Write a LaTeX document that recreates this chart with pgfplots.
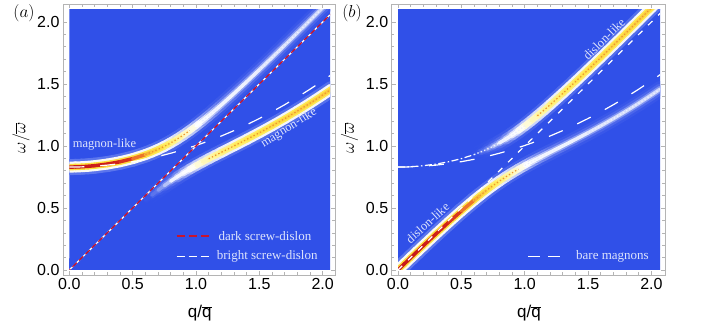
\documentclass[border=0pt]{standalone}
\usepackage{fontspec}
\setmainfont{Liberation Serif}
\newfontfamily\sansf{Liberation Sans}
\usepackage{pgfplots}
\usepackage{pgfplotstable}
\pgfplotsset{compat=1.18}

\definecolor{bg}{RGB}{48,80,232}
\definecolor{frm}{RGB}{180,180,180}
\definecolor{lab}{RGB}{222,228,252}
\definecolor{dred}{RGB}{200,20,45}
\definecolor{dotor}{RGB}{238,150,45}

% hybridised branches: q, upper, lower, intensity A (magnon-like weight), B (dislon-like weight)
\pgfplotstableread{
q up lo A B
0 0.8300 0.0000 1.00 0.00
0.05 0.8309 0.0495 1.00 0.00
0.1 0.8331 0.0986 1.00 0.00
0.15 0.8365 0.1474 1.00 0.00
0.2 0.8412 0.1958 0.99 0.00
0.3 0.8542 0.2914 0.98 0.02
0.4 0.8729 0.3850 0.97 0.03
0.5 0.8979 0.4756 0.95 0.06
0.6 0.9305 0.5621 0.90 0.11
0.65 0.9506 0.6028 0.86 0.14
0.7 0.9724 0.6429 0.81 0.18
0.75 0.9971 0.6808 0.76 0.22
0.8 1.0248 0.7166 0.70 0.27
0.85 1.0551 0.7506 0.64 0.33
0.9 1.0883 0.7827 0.58 0.38
0.95 1.1240 0.8130 0.52 0.44
1.0 1.1620 0.8420 0.47 0.49
1.05 1.2021 0.8697 0.42 0.54
1.1 1.2438 0.8967 0.38 0.59
1.15 1.2871 0.9230 0.35 0.62
1.2 1.3316 0.9489 0.33 0.66
1.3 1.4235 1.0006 0.31 0.71
1.4 1.5181 1.0529 0.30 0.75
1.5 1.6148 1.1067 0.29 0.77
1.6 1.7130 1.1625 0.28 0.80
1.7 1.8123 1.2206 0.28 0.81
1.8 1.9124 1.2813 0.27 0.82
1.9 2.0133 1.3448 0.27 0.83
2.0 2.1147 1.4113 0.27 0.84
2.07 2.1862 1.4594 0.27 0.84
}\branches

% bare magnon
\pgfplotstableread{
q m
0 0.8300
0.1 0.8317
0.2 0.8370
0.3 0.8457
0.4 0.8578
0.5 0.8735
0.6 0.8926
0.7 0.9153
0.8 0.9414
0.9 0.9709
1.0 1.0040
1.1 1.0405
1.2 1.0806
1.3 1.1241
1.4 1.1710
1.5 1.2215
1.6 1.2754
1.7 1.3329
1.8 1.3938
1.9 1.4581
2.0 1.5260
2.1 1.5973
}\magnon

\pgfplotsset{
 colormap={Lone}{rgb255(0cm)=(48,80,232); rgb255(1.5cm)=(48,80,232); rgb255(3cm)=(58,88,233); rgb255(10cm)=(92,118,237)},
 colormap={Ltwo}{rgb255(0cm)=(48,80,232); rgb255(1.5cm)=(48,80,232); rgb255(3cm)=(82,107,236); rgb255(5cm)=(185,196,248); rgb255(7cm)=(238,241,255); rgb255(10cm)=(250,250,245)},
 colormap={Lthree}{rgb255(0cm)=(48,80,232); rgb255(1.2cm)=(48,80,232); rgb255(3cm)=(140,158,243); rgb255(4.5cm)=(250,250,255); rgb255(6cm)=(255,248,175); rgb255(8cm)=(255,236,85); rgb255(10cm)=(255,222,60)},
 colormap={Lfour}{rgb255(0cm)=(48,80,232); rgb255(1.2cm)=(48,80,232); rgb255(3cm)=(240,243,255); rgb255(4.5cm)=(255,255,255); rgb255(6cm)=(255,245,160); rgb255(7.5cm)=(255,232,80); rgb255(8.7cm)=(250,195,60); rgb255(9.3cm)=(235,110,40); rgb255(9.7cm)=(210,35,25); rgb255(10cm)=(200,25,25)},
}

\newcommand\band[2]{%
 \addplot[forget plot, mesh, colormap name=Lone, line width=16pt, line cap=round, point meta=\thisrow{#2}] table[x=q,y=#1]{\branches};
 \addplot[forget plot, mesh, colormap name=Ltwo, line width=11pt, line cap=round, point meta=\thisrow{#2}] table[x=q,y=#1]{\branches};
 \addplot[forget plot, mesh, colormap name=Lthree, line width=6.5pt, line cap=round, point meta=\thisrow{#2}] table[x=q,y=#1]{\branches};
 \addplot[forget plot, mesh, colormap name=Lfour, line width=3.5pt, line cap=round, point meta=\thisrow{#2}] table[x=q,y=#1]{\branches};
}

\tikzset{
 mylbl/.style={text=lab, font=\fontsize{12.5}{14}\selectfont},
 mydot/.style={white!92!bg, line width=1.3pt, dash pattern=on 1.4pt off 2.2pt},
 myodot/.style={dotor, line width=1.2pt, dash pattern=on 1.4pt off 2.2pt},
 legtxt/.style={text=lab, font=\fontsize{13}{15}\selectfont, anchor=west, inner sep=0pt},
}

\pgfplotsset{
 frameaxis/.style={
  anchor=south west, x=126.7pt, y=124pt,
  ymin=-0.0403, ymax=2.145,
  axis line style={frm, line width=0.8pt},
  tick style={frm, line width=0.6pt},
  major tick length=4pt, minor tick length=2.5pt,
  xtick={0,0.5,1,1.5,2}, xticklabels={0.0,0.5,1.0,1.5,2.0},
  ytick={0,0.5,1,1.5,2}, yticklabels={0.0,0.5,1.0,1.5,2.0},
  minor x tick num=4, minor y tick num=4,
  tick label style={font=\sansf\fontsize{16}{16}\selectfont, text=black},
  label style={font=\fontsize{17}{17}\selectfont},
  xlabel={\sansf q/$\overline{\hbox{\sansf q}}$},
  ylabel={$\omega/\overline{\omega}$},
 },
 dataaxis/.style={
  anchor=south west, x=126.7pt, y=124pt,
  ymin=0, ymax=2.1, hide axis,
  point meta min=0, point meta max=1,
 },
}

\begin{document}
\begin{tikzpicture}
\path[use as bounding box] (0pt,0pt) rectangle (705pt,324pt);

% ---------- panel (a) ----------
\begin{axis}[frameaxis, at={(63pt,49pt)}, xmin=-0.0497, xmax=2.097,
  xlabel style={at={(axis description cs:0.503,-0.140)}, anchor=center},
  ylabel style={at={(axis description cs:-0.154,0.506)}, anchor=center}]
 \addplot[draw=none, forget plot] coordinates {(0,0)};
\end{axis}
\begin{axis}[dataaxis, at={(69.3pt,54pt)}, xmin=0, xmax=2.058]
 \addplot[forget plot, fill=bg, draw=none] coordinates {(-0.1,2.3) (2.3,2.3)} \closedcycle;
 \band{up}{A}
 \band{lo}{B}
 \addplot[forget plot, myodot] table[x=q,y=lo, restrict x to domain=1.1:2.1]{\branches};
 \addplot[forget plot, myodot] table[x=q,y=up, restrict x to domain=0.55:0.95]{\branches};
 \addplot[forget plot, mydot] table[x=q,y=up, restrict x to domain=1.05:2.1]{\branches};
 \addplot[forget plot, white, line width=1.2pt, dash pattern=on 15pt off 16pt] table[x=q,y=m]{\magnon};
 \addplot[forget plot, white, line width=1.2pt, dash pattern=on 6pt off 3pt] coordinates {(0,0) (2.15,2.15)};
 \addplot[forget plot, dred, line width=1.2pt, dash pattern=on 6pt off 3pt, dash phase=4.5pt] coordinates {(0,0) (2.15,2.15)};
 % legend
 \draw[dred, line width=1.2pt, dash pattern=on 8pt off 4pt] (axis cs:0.848,0.274) -- (axis cs:1.111,0.274);
 \node[legtxt] at (axis cs:1.176,0.274) {dark screw-dislon};
 \draw[white, line width=1.2pt, dash pattern=on 8pt off 4pt] (axis cs:0.848,0.107) -- (axis cs:1.111,0.107);
 \node[legtxt] at (axis cs:1.163,0.107) {bright screw-dislon};
 \node[mylbl] at (axis cs:0.278,1.016) {magnon-like};
 \node[mylbl, rotate=32] at (axis cs:1.734,1.145) {magnon-like};
\end{axis}
\node[font=\fontsize{16}{16}\selectfont] at (24pt,311pt) {$(a)$};

% ---------- panel (b) ----------
\begin{axis}[frameaxis, at={(391.7pt,49pt)}, xmin=-0.0497, xmax=2.107,
  xlabel style={at={(axis description cs:0.5025,-0.140)}, anchor=center},
  ylabel style={at={(axis description cs:-0.154,0.506)}, anchor=center}]
 \addplot[draw=none, forget plot] coordinates {(0,0)};
\end{axis}
\begin{axis}[dataaxis, at={(398pt,54pt)}, xmin=0, xmax=2.068]
 \addplot[forget plot, fill=bg, draw=none] coordinates {(-0.1,2.3) (2.3,2.3)} \closedcycle;
 \band{up}{B}
 \band{lo}{A}
 \addplot[forget plot, myodot] table[x=q,y=up, restrict x to domain=1.1:2.1]{\branches};
 \addplot[forget plot, myodot] table[x=q,y=lo, restrict x to domain=0.55:0.95]{\branches};
 \addplot[forget plot, mydot] table[x=q,y=lo, restrict x to domain=1.0:2.1]{\branches};
 \addplot[forget plot, mydot] table[x=q,y=up, restrict x to domain=0.6:1.0]{\branches};
 \addplot[forget plot, white, line width=1.2pt, dash pattern=on 7pt off 2.5pt on 1.5pt off 2.5pt] table[x=q,y=up, restrict x to domain=0:0.6]{\branches};
 \addplot[forget plot, white, line width=1.2pt, dash pattern=on 15pt off 16pt] table[x=q,y=m]{\magnon};
 \addplot[forget plot, white, line width=1.2pt, dash pattern=on 6pt off 8pt] coordinates {(0,0) (2.15,2.15)};
 % legend
 \draw[white, line width=1.2pt, dash pattern=on 12pt off 8pt] (axis cs:1.028,0.107) -- (axis cs:1.279,0.107);
 \node[legtxt] at (axis cs:1.405,0.107) {bare magnons};
 \node[mylbl, rotate=45] at (axis cs:1.626,1.863) {dislon-like};
 \node[mylbl, rotate=42] at (axis cs:0.233,0.379) {dislon-like};
\end{axis}
\node[font=\fontsize{16}{16}\selectfont] at (352pt,311pt) {$(b)$};
\end{tikzpicture}
\end{document}
